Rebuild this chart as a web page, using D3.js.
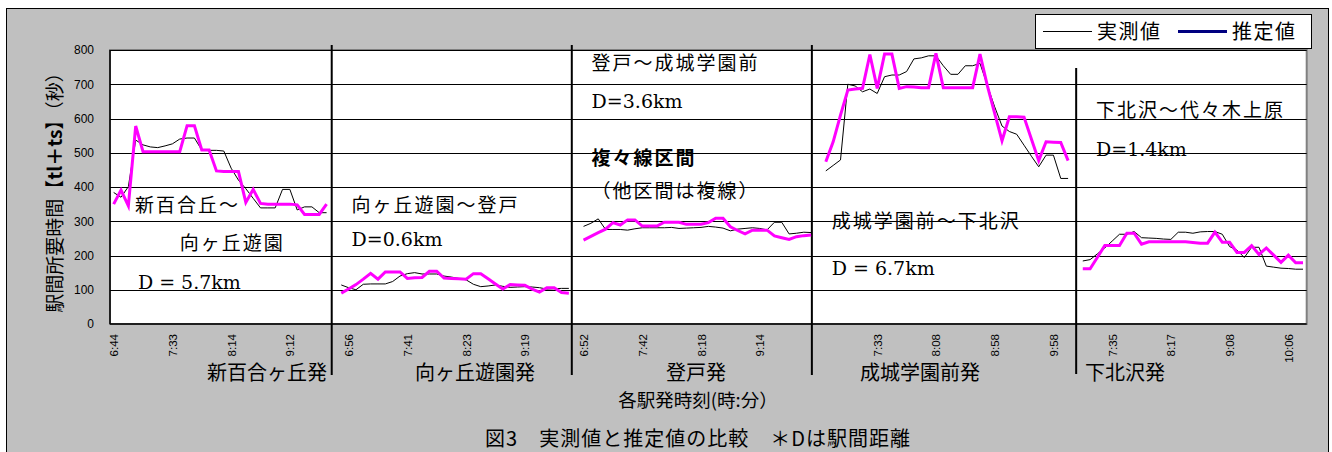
<!DOCTYPE html>
<html>
<head>
<meta charset="utf-8">
<script src="https://cdn.jsdelivr.net/npm/d3@7"></script>
<style>
  body { margin: 0; background: #fff; }
</style>
</head>
<body>
<div id="chart"></div>
<script>
const width = 1332, height = 452;

// departure station of each section, and first category index of each section
const sectionNames = ["新百合ヶ丘発", "向ヶ丘遊園発", "登戸発", "成城学園前発", "下北沢発"];
const sectionStart = [0, 31, 64, 97, 132];
const categoryCount = 163;

// 実測値 (measured) and 推定値 (estimated), seconds
const measured1 = [384, 370, 401, 537, 523, 517, 515, 520, 526, 540, 543, 543, 508, 507, 507, 505, 455, 420, 395, 367, 339, 339, 339, 393, 393, 333, 342, 342, 325, 325];
const estimated1 = [350, 391, 345, 578, 503, 503, 503, 503, 503, 503, 579, 579, 508, 508, 447, 445, 445, 445, 355, 393, 352, 350, 350, 350, 350, 348, 320, 320, 320, 350];

const measured2 = [114, 106, 100, 116, 117, 117, 117, 124, 140, 147, 150, 146, 146, 146, 140, 137, 133, 129, 116, 109, 111, 114, 110, 107, 108, 109, 108, 106, 102, 103, 104, 104];
const estimated2 = [90, 102, 115, 131, 148, 131, 152, 152, 152, 133, 135, 136, 154, 154, 134, 133, 132, 131, 147, 147, 132, 117, 102, 115, 114, 113, 102, 93, 106, 106, 92, 90];

const measured3 = [285, 294, 307, 276, 276, 276, 274, 278, 281, 281, 281, 281, 282, 279, 280, 281, 282, 285, 283, 280, 272, 277, 279, 281, 279, 275, 297, 297, 263, 265, 268, 267];
const estimated3 = [245, 256, 267, 277, 296, 289, 304, 304, 286, 286, 286, 297, 297, 297, 291, 291, 291, 296, 309, 309, 284, 273, 263, 274, 274, 274, 257, 252, 247, 255, 258, 260];

const measured4 = [447, 463, 479, 700, 695, 678, 686, 673, 722, 727, 727, 737, 774, 777, 783, 783, 754, 729, 729, 754, 754, 761, 697, 634, 578, 562, 554, 522, 490, 459, 493, 493, 425, 425];
const estimated4 = [474, 532, 610, 683, 686, 688, 787, 688, 788, 788, 688, 693, 692, 690, 690, 790, 690, 690, 690, 690, 690, 788, 696, 615, 535, 605, 605, 604, 540, 477, 532, 531, 530, 477];

const measured5 = [184, 188, 205, 222, 242, 262, 262, 270, 252, 251, 250, 248, 247, 268, 268, 265, 269, 270, 270, 262, 226, 216, 194, 224, 224, 169, 166, 163, 162, 160, 160];
const estimated5 = [161, 161, 195, 229, 229, 229, 265, 265, 233, 240, 240, 240, 240, 240, 240, 238, 236, 236, 268, 239, 239, 209, 209, 229, 203, 222, 201, 180, 201, 179, 179];

const measuredSeries = [measured1, measured2, measured3, measured4, measured5];
const estimatedSeries = [estimated1, estimated2, estimated3, estimated4, estimated5];

// every 8th category is labelled
const tickLabels = ["6:44", "7:33", "8:14", "9:12", "6:56", "7:41", "8:23", "9:19", "6:52", "7:42", "8:18", "9:14",
                    "", "7:33", "8:08", "8:58", "9:58", "7:35", "8:17", "9:08", "10:06"];
const yTicks = [0, 100, 200, 300, 400, 500, 600, 700, 800];

const jp = "'Noto Sans CJK JP', sans-serif";
const sans = "'Liberation Sans', Arial, sans-serif";
const serif = "'DejaVu Serif', serif";

let svg = d3.select("#chart")
    .append("svg")
    .attr("width", width)
    .attr("height", height);

// chart area
svg.append("rect")
    .attr("x", 6.5).attr("y", 8.5)
    .attr("width", 1322).attr("height", 470)
    .attr("fill", "#c0c0c0")
    .attr("stroke", "#000");

let x = d3.scaleLinear()
    .domain([-0.5, categoryCount - 0.5])
    .range([110, 1306.7]);

let y = d3.scaleLinear()
    .domain([0, 800])
    .range([324, 50]);

// plot area
svg.append("rect")
    .attr("x", x(-0.5)).attr("y", y(800))
    .attr("width", x(categoryCount - 0.5) - x(-0.5))
    .attr("height", y(0) - y(800))
    .attr("fill", "#fff")
    .attr("stroke", "#808080")
    .attr("stroke-width", 2);

svg.append("g").selectAll("line")
    .data(yTicks.filter(d => d > 0))
    .enter().append("line")
    .attr("x1", x(-0.5)).attr("x2", x(categoryCount - 0.5))
    .attr("y1", d => Math.round(y(d)) + 0.5).attr("y2", d => Math.round(y(d)) + 0.5)
    .attr("stroke", "#000");

svg.append("line")
    .attr("x1", x(-0.5)).attr("x2", x(categoryCount - 0.5))
    .attr("y1", y(0)).attr("y2", y(0))
    .attr("stroke", "#000").attr("stroke-width", 1.5);
svg.append("line")
    .attr("x1", x(-0.5)).attr("x2", x(-0.5))
    .attr("y1", y(0)).attr("y2", y(800))
    .attr("stroke", "#000").attr("stroke-width", 1.5);

// y axis
let yAxis = svg.append("g")
    .attr("transform", `translate(${x(-0.5)},0)`)
    .call(d3.axisLeft(y).tickValues(yTicks).tickSize(0).tickPadding(16));
yAxis.select(".domain").remove();
yAxis.selectAll("text")
    .style("font-family", sans)
    .style("font-size", "12px")
    .attr("fill", "#000");

// x axis, rotated labels
let xAxis = svg.append("g")
    .attr("transform", `translate(0,${y(0)})`)
    .call(d3.axisBottom(x)
        .tickValues(tickLabels.map((d, i) => i * 8))
        .tickFormat((d, i) => tickLabels[i])
        .tickSize(0));
xAxis.select(".domain").remove();
xAxis.selectAll("text")
    .attr("transform", "rotate(-90)")
    .attr("text-anchor", "end")
    .attr("x", -10)
    .attr("y", 0)
    .attr("dy", "0.35em")
    .style("font-family", sans)
    .style("font-size", "11.5px")
    .attr("fill", "#000");

// section separators
const separators = [[29.7, 45, 375], [62.4, 45, 375], [95.1, 45, 375], [131.1, 68, 374]];
svg.append("g").selectAll("line")
    .data(separators)
    .enter().append("line")
    .attr("x1", d => x(d[0])).attr("x2", d => x(d[0]))
    .attr("y1", d => d[1]).attr("y2", d => d[2])
    .attr("stroke", "#000").attr("stroke-width", 2);

// series
let line = d3.line()
    .x(d => x(d[0]))
    .y(d => y(d[1]));

function toPoints(values, s) {
    return values.map((v, k) => [sectionStart[s] + k, v]);
}

svg.append("g").selectAll("path")
    .data(measuredSeries.map(toPoints))
    .enter().append("path")
    .attr("d", line)
    .attr("fill", "none")
    .attr("stroke", "#000")
    .attr("stroke-width", 1);

svg.append("g").selectAll("path")
    .data(estimatedSeries.map(toPoints))
    .enter().append("path")
    .attr("d", line)
    .attr("fill", "none")
    .attr("stroke", "#ff00ff")
    .attr("stroke-width", 3);

// annotations inside the plot
function note(txt, i, v, font, bold) {
    let t = svg.append("text")
        .attr("x", x(i)).attr("y", y(v))
        .style("font-family", font)
        .style("font-size", "19px")
        .style("letter-spacing", font == serif ? "0px" : "2px")
        .attr("fill", "#000")
        .text(txt);
    if (bold) t.style("font-weight", "bold");
    return t;
}
note("新百合丘～", 2.9, 327, jp);
note("向ヶ丘遊園", 9.0, 216, jp);
note("D = 5.7km", 3.3, 102, serif);
note("向ヶ丘遊園～登戸", 32.4, 327, jp);
note("D=0.6km", 32.4, 228, serif);
note("登戸～成城学園前", 65.1, 741, jp);
note("D=3.6km", 65.1, 632, serif);
note("複々線区間", 65.1, 465, jp, true);
note("（他区間は複線）", 65.1, 367, jp);
note("成城学園前～下北沢", 97.8, 280, jp);
note("D = 6.7km", 97.8, 143, serif);
note("下北沢～代々木上原", 133.8, 604, jp);
note("D=1.4km", 133.8, 490, serif);

// y axis title
let yTitle = svg.append("text")
    .attr("transform", "translate(55,188) rotate(-90)")
    .attr("text-anchor", "middle")
    .attr("dy", "0.35em")
    .style("font-family", jp)
    .style("font-size", "19px")
    .attr("fill", "#000");
yTitle.append("tspan").text("駅間所要時間【");
yTitle.append("tspan").style("font-weight", "bold").text("tl＋ts");
yTitle.append("tspan").text("】（秒）");

// station labels under the axis
const stationCenters = [267, 475, 696, 920, 1125];
svg.append("g").selectAll("text")
    .data(sectionNames)
    .enter().append("text")
    .attr("x", (d, i) => stationCenters[i])
    .attr("y", 379.5)
    .attr("text-anchor", "middle")
    .style("font-family", jp)
    .style("font-size", "20px")
    .attr("fill", "#000")
    .text(d => d);

svg.append("text")
    .attr("x", 698).attr("y", 407)
    .attr("text-anchor", "middle")
    .style("font-family", jp)
    .style("font-size", "18.5px")
    .attr("fill", "#000")
    .text("各駅発時刻(時:分）");

svg.append("text")
    .attr("x", 698).attr("y", 446)
    .attr("text-anchor", "middle")
    .style("font-family", jp)
    .style("font-size", "20px")
    .style("letter-spacing", "1px")
    .attr("fill", "#000")
    .text("図3　実測値と推定値の比較　＊Dは駅間距離");

// legend
let legend = svg.append("g");
legend.append("rect")
    .attr("x", 1035.5).attr("y", 14.5)
    .attr("width", 276).attr("height", 34)
    .attr("fill", "#fff").attr("stroke", "#000");
legend.append("line")
    .attr("x1", 1043).attr("x2", 1092).attr("y1", 31.5).attr("y2", 31.5)
    .attr("stroke", "#000");
legend.append("text")
    .attr("x", 1097).attr("y", 38.5)
    .style("font-family", jp).style("font-size", "20px").style("letter-spacing", "1.5px")
    .text("実測値");
legend.append("line")
    .attr("x1", 1178).attr("x2", 1227).attr("y1", 31.5).attr("y2", 31.5)
    .attr("stroke", "#000080").attr("stroke-width", 3);
legend.append("text")
    .attr("x", 1232).attr("y", 38.5)
    .style("font-family", jp).style("font-size", "20px").style("letter-spacing", "1.5px")
    .text("推定値");
</script>
</body>
</html>
